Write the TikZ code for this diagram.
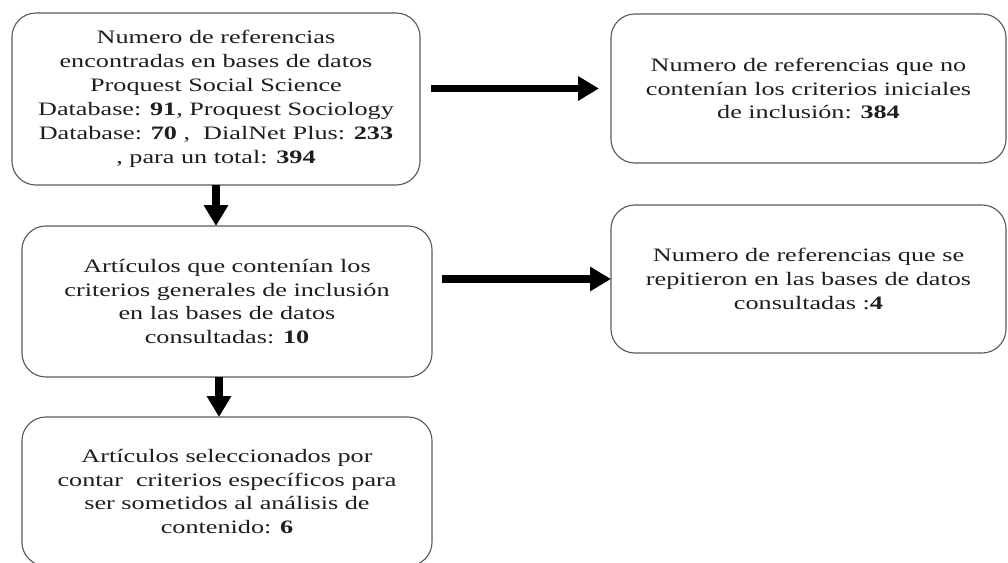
\documentclass[tikz,border=0pt]{standalone}
\usepackage{fontspec}
\setmainfont[FakeStretch=1.38]{Liberation Serif}
\usetikzlibrary{positioning,calc,arrows.meta}
\definecolor{edge}{HTML}{5A5A5A}
\definecolor{ink}{HTML}{1E1E1E}
\tikzset{
  box/.style ={draw=edge, rounded corners=0.6cm, align=center, fill=white,
               line width=0.8pt, inner sep=0pt, outer sep=0pt, text=ink,
               font=\fontsize{13.5}{17}\selectfont},
  flow/.style={-{Triangle[length=0.52cm, width=0.58cm]}, line width=5pt, black},
}
\begin{document}
\begin{tikzpicture}[x=0.025cm, y=-0.025cm]
    \clip (0,0) rectangle (1008,563);
    % left column
    \node[box, minimum width=10.2cm, minimum height=4.3cm] (A) at (216,99)
      {Numero de referencias\\ encontradas en bases de datos\\ Proquest Social Science\\
       Database: \textbf{91}, Proquest Sociology\\ Database: \textbf{70} ,\ \ DialNet Plus: \textbf{233}\\
       , para un total: \textbf{394}};
    \node[box, minimum width=10.25cm, minimum height=3.775cm] (C) at (227,301.5)
      {Artículos que contenían los\\ criterios generales de inclusión\\ en las bases de datos\\
       consultadas: \textbf{10}};
    \node[box, minimum width=10.25cm, minimum height=3.725cm] (E) at (227,491.5)
      {Artículos seleccionados por\\ contar\ \ criterios específicos para\\ ser sometidos al análisis de\\
       contenido: \textbf{6}};
    % right column
    \node[box, minimum width=9.875cm, minimum height=3.725cm] (B) at (808.5,88.5)
      {Numero de referencias que no\\ contenían los criterios iniciales\\ de inclusión: \textbf{384}};
    \node[box, minimum width=9.875cm, minimum height=3.7cm] (D) at (808.5,279)
      {Numero de referencias que se\\ repitieron en las bases de datos\\ consultadas :\textbf{4}};
    % arrows
    \draw[flow] (A.south) -- (A.south |- C.north);
    \draw[flow] ($(C.south)+(-8,0)$) -- ($(E.north)+(-8,0)$);
    \draw[flow] ($(A.east |- B.west)+(11,0)$) -- ($(B.west)+(-12,0)$);
    \draw[flow] ($(C.east |- D.west)+(10,0)$) -- (D.west);
\end{tikzpicture}
\end{document}
